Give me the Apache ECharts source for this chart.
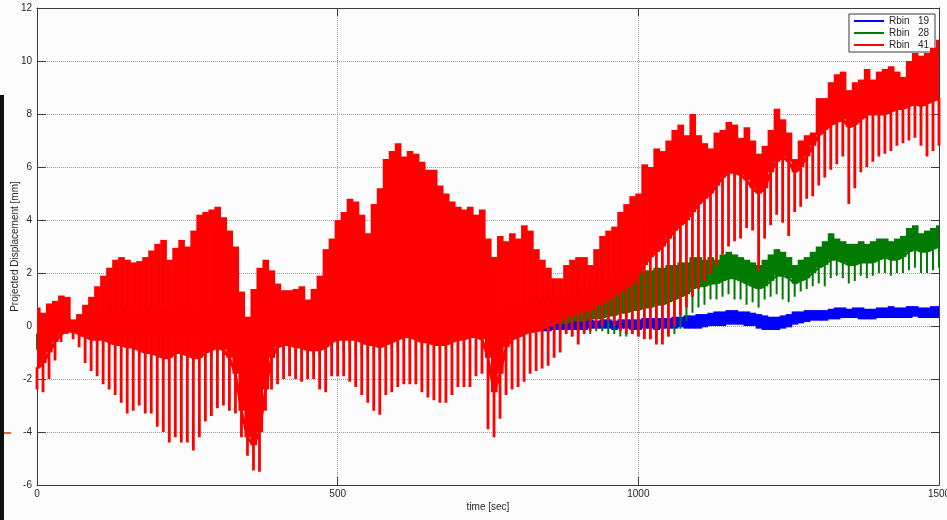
<!DOCTYPE html>
<html>
<head>
<meta charset="utf-8">
<script src="https://cdn.jsdelivr.net/npm/echarts/dist/echarts.min.js"></script>
<style>
  html, body { margin: 0; padding: 0; background: #fbfcfb; }
  #chart { width: 947px; height: 520px; }
</style>
</head>
<body>
<div id="chart"></div>
<script>
// Projected displacement of three radial bins over a 1500 s run.
// Each trace oscillates quickly, so it is stored as envelopes sampled every 10 s:
//   *Top  - upper edge of the trace
//   *Body - lower edge of the densely filled part
//   *Low  - tips of the downward swings
const TIME_STEP = 10;            // seconds between samples (0 .. 1500)
const X_TICKS = [0, 500, 1000, 1500];
const Y_TICKS = [-6, -4, -2, 0, 2, 4, 6, 8, 10, 12];
const SERIES_NAMES = ['Rbin   19', 'Rbin   28', 'Rbin   41'];

// Rbin 41 (red)
const rbin41Top = [
  0.7, 0.5, 0.85, 0.95, 1.15, 1.1, 0.25, 0.45, 0.8, 1.1,
  1.5, 1.9, 2.2, 2.5, 2.6, 2.5, 2.4, 2.45, 2.6, 2.85,
  3.1, 3.25, 2.5, 2.95, 3.25, 3.0, 3.6, 4.2, 4.3, 4.4,
  4.5, 4.1, 3.6, 3.0, 1.3, 0.35, 1.4, 2.2, 2.5, 2.1,
  1.6, 1.35, 1.35, 1.4, 1.5, 1.0, 1.4, 1.9, 2.9, 3.3,
  4.0, 4.3, 4.8, 4.7, 4.2, 3.5, 4.6, 5.2, 6.3, 6.6,
  6.9, 6.4, 6.6, 6.5, 6.2, 5.9, 5.9, 5.3, 5.0, 4.7,
  4.5, 4.4, 4.5, 4.2, 4.4, 3.3, 2.6, 3.4, 3.2, 3.5,
  3.3, 3.8, 3.6, 2.9, 2.5, 2.2, 1.8, 1.8, 2.3, 2.5,
  2.6, 2.6, 2.3, 2.9, 3.4, 3.6, 3.75, 4.3, 4.6, 4.9,
  5.0, 6.1, 6.0, 6.7, 6.6, 7.0, 7.4, 7.6, 7.2, 8.0,
  7.2, 6.9, 6.7, 7.3, 7.4, 7.7, 7.6, 7.1, 7.5, 7.0,
  6.5, 6.8, 7.4, 8.2, 7.8, 7.3, 6.3, 7.0, 7.2, 7.3,
  8.6, 8.6, 9.2, 9.5, 9.6, 8.9, 9.2, 9.3, 9.7, 9.3,
  9.6, 9.7, 9.8, 9.6, 9.4, 10.0, 10.3, 10.2, 10.3, 10.5,
  10.8
];
const rbin41Body = [
  -1.6, -1.4, -1.0, -0.6, -0.3, -0.2, -0.2, -0.3, -0.4, -0.5,
  -0.5, -0.5, -0.6, -0.7, -0.7, -0.8, -0.8, -0.9, -1.0, -1.0,
  -1.1, -1.2, -1.2, -1.0, -1.0, -1.1, -1.2, -1.2, -1.0, -0.9,
  -0.8, -0.9, -1.2, -1.8, -3.2, -4.2, -4.5, -4.0, -2.4, -1.2,
  -0.8, -0.7, -0.7, -0.8, -0.8, -0.9, -0.9, -0.9, -0.8, -0.6,
  -0.5, -0.5, -0.5, -0.5, -0.6, -0.7, -0.7, -0.8, -0.7, -0.6,
  -0.5, -0.4, -0.4, -0.5, -0.6, -0.6, -0.7, -0.7, -0.7, -0.6,
  -0.5, -0.5, -0.4, -0.4, -0.5, -1.2, -2.5, -1.8, -0.8, -0.5,
  -0.4, -0.3, -0.2, -0.2, -0.1, 0.0, 0.1, 0.2, 0.4, 0.4,
  0.5, 0.6, 0.6, 0.8, 0.9, 1.0, 1.2, 1.3, 1.5, 1.6,
  2.0, 2.3, 2.6, 2.8, 3.0, 3.3, 3.6, 3.8, 4.0, 4.3,
  4.6, 4.8, 5.0, 5.3, 5.6, 5.8, 5.8, 5.7, 5.5, 5.2,
  5.0, 5.2, 5.8, 6.2, 6.4, 6.2, 5.8, 6.0, 6.4, 6.8,
  7.2, 7.4, 7.6, 7.7, 7.8, 7.5, 7.6, 7.8, 8.0, 8.0,
  8.0, 8.0, 8.1, 8.2, 8.2, 8.3, 8.4, 8.3, 8.4, 8.5,
  8.6
];
const rbin41Low = [
  -2.4, -2.5, -2.0, -1.3, -0.6, -0.3, -0.5, -0.8, -1.4, -1.7,
  -1.9, -2.2, -2.4, -2.6, -2.9, -3.3, -3.2, -3.0, -3.3, -3.3,
  -3.8, -4.0, -4.4, -4.2, -4.4, -4.4, -4.7, -4.2, -3.6, -3.4,
  -3.1, -3.0, -3.2, -3.3, -4.2, -4.9, -5.45, -5.5, -3.2, -2.4,
  -2.2, -2.0, -1.9, -2.0, -2.1, -2.0, -2.0, -2.4, -2.5, -1.9,
  -1.9, -1.9, -2.1, -2.3, -2.6, -2.9, -3.2, -3.35, -2.6, -2.5,
  -2.3, -2.2, -2.2, -2.2, -2.5, -2.7, -2.8, -2.9, -2.9, -2.6,
  -2.3, -2.3, -2.3, -1.9, -1.8, -3.9, -4.2, -3.5, -2.6, -2.4,
  -2.3, -2.1, -1.8, -1.7, -1.6, -1.5, -1.2, -1.0, -0.3, -0.4,
  -0.7, -0.3, -0.2, -0.1, 0.0, 0.2, 0.0, -0.2, -0.3, -0.3,
  -0.4, -0.5, -0.5, -0.7, -0.7, -0.4, 0.0, 0.4, 0.7, 1.1,
  1.4, 1.7, 2.0, 2.3, 2.7, 3.0, 3.2, 3.3, 3.7, 3.6,
  2.1, 3.3, 3.8, 4.2, 3.9, 3.4, 4.3, 4.5, 4.8, 4.9,
  5.3, 5.6, 5.9, 6.1, 6.4, 4.6, 5.2, 5.8, 6.0, 6.2,
  6.4, 6.5, 6.6, 6.8, 6.9, 7.0, 7.1, 6.8, 6.4, 6.6,
  6.8
];

// Rbin 28 (green)
const rbin28Top = [
  0.3, 0.3, 0.4, 0.4, 0.3, 0.3, 0.2, 0.3, 0.4, 0.5,
  0.5, 0.6, 0.6, 0.5, 0.6, 0.7, 0.6, 0.6, 0.7, 0.6,
  0.7, 0.7, 0.6, 0.7, 0.8, 0.7, 0.6, 0.7, 0.6, 0.6,
  0.5, 0.5, 0.4, 0.3, 0.2, 0.1, 0.2, 0.3, 0.4, 0.5,
  0.5, 0.6, 0.6, 0.5, 0.6, 0.6, 0.7, 0.7, 0.8, 0.8,
  0.9, 0.9, 1.0, 0.9, 0.8, 0.9, 1.0, 1.0, 1.1, 1.0,
  1.0, 1.1, 1.0, 0.9, 1.0, 0.9, 1.0, 0.9, 0.9, 0.8,
  0.9, 0.8, 0.9, 0.8, 0.7, 0.6, 0.4, 0.6, 0.7, 0.8,
  0.8, 0.9, 0.9, 1.0, 1.0, 1.0, 1.1, 1.1, 1.2, 1.1,
  1.2, 1.3, 1.4, 1.5, 1.6, 1.7, 1.8, 1.8, 1.9, 2.0,
  2.0, 2.1, 2.1, 2.2, 2.2, 2.3, 2.3, 2.4, 2.4, 2.6,
  2.6, 2.5, 2.6, 2.5, 2.7, 2.8, 2.7, 2.6, 2.5, 2.4,
  2.3, 2.5, 2.7, 2.9, 2.8, 2.6, 2.3, 2.5, 2.6, 2.8,
  3.0, 3.2, 3.5, 3.3, 3.2, 3.1, 3.1, 3.2, 3.1, 3.2,
  3.3, 3.3, 3.2, 3.3, 3.4, 3.7, 3.8, 3.5, 3.6, 3.7,
  3.8
];
const rbin28Body = [
  -0.3, -0.3, -0.2, -0.1, 0.0, 0.0, -0.1, -0.1, -0.2, -0.2,
  -0.2, -0.3, -0.3, -0.3, -0.2, -0.3, -0.3, -0.2, -0.3, -0.3,
  -0.3, -0.4, -0.3, -0.3, -0.3, -0.4, -0.4, -0.4, -0.3, -0.3,
  -0.3, -0.3, -0.4, -0.5, -0.6, -0.7, -0.7, -0.6, -0.5, -0.4,
  -0.4, -0.3, -0.3, -0.3, -0.4, -0.4, -0.3, -0.3, -0.3, -0.2,
  -0.2, -0.2, -0.2, -0.3, -0.3, -0.3, -0.3, -0.4, -0.3, -0.3,
  -0.2, -0.2, -0.2, -0.2, -0.3, -0.3, -0.3, -0.3, -0.3, -0.2,
  -0.2, -0.2, -0.2, -0.2, -0.2, -0.4, -0.6, -0.5, -0.3, -0.2,
  -0.2, -0.1, -0.1, 0.0, 0.0, 0.0, 0.1, 0.1, 0.1, 0.2,
  0.2, 0.2, 0.3, 0.3, 0.3, 0.4, 0.4, 0.5, 0.5, 0.6,
  0.6, 0.7, 0.7, 0.8, 0.8, 0.9, 1.0, 1.1, 1.2, 1.4,
  1.5, 1.5, 1.6, 1.6, 1.7, 1.8, 1.8, 1.7, 1.6, 1.5,
  1.4, 1.5, 1.7, 1.9, 1.9, 1.8, 1.6, 1.7, 1.8, 2.0,
  2.2, 2.3, 2.5, 2.5, 2.4, 2.3, 2.3, 2.4, 2.4, 2.4,
  2.5, 2.6, 2.5, 2.5, 2.6, 2.8, 2.9, 2.8, 2.8, 2.9,
  3.0
];
const rbin28Low = [
  -0.9, -0.8, -0.6, -0.4, -0.3, -0.2, -0.3, -0.5, -0.7, -0.8,
  -0.9, -1.0, -1.0, -1.1, -1.0, -1.1, -1.2, -1.1, -1.2, -1.2,
  -1.2, -1.3, -1.2, -1.2, -1.3, -1.3, -1.4, -1.3, -1.2, -1.2,
  -1.1, -1.2, -1.3, -1.4, -1.6, -1.8, -1.8, -1.6, -1.3, -1.1,
  -1.1, -1.0, -1.0, -1.1, -1.2, -1.2, -1.1, -1.1, -1.0, -1.0,
  -0.9, -1.0, -1.0, -1.1, -1.1, -1.2, -1.2, -1.3, -1.2, -1.1,
  -1.0, -1.0, -1.1, -1.1, -1.2, -1.2, -1.3, -1.3, -1.2, -1.1,
  -1.1, -1.0, -1.0, -0.9, -0.9, -1.3, -1.6, -1.4, -1.1, -1.0,
  -1.0, -0.9, -0.9, -0.8, -0.7, -0.7, -0.6, -0.5, -0.3, -0.4,
  -0.4, -0.3, -0.3, -0.2, -0.2, -0.3, -0.3, -0.4, -0.4, -0.3,
  -0.4, -0.4, -0.5, -0.6, -0.5, -0.4, -0.3, -0.1, 0.2, 0.5,
  0.7, 0.8, 1.0, 1.0, 1.1, 1.2, 1.0, 1.0, 0.8, 0.9,
  0.7, 1.0, 1.1, 1.2, 1.0, 0.9, 1.1, 1.3, 1.4, 1.5,
  1.6, 1.5, 1.8, 1.9, 1.8, 1.6, 1.7, 1.9, 1.8, 1.9,
  2.0, 2.0, 1.9, 2.0, 2.0, 2.1, 2.2, 2.0, 2.0, 2.1,
  2.2
];

// Rbin 19 (blue)
const rbin19Top = [
  0.1, 0.1, 0.15, 0.2, 0.2, 0.2, 0.15, 0.15, 0.1, 0.1,
  0.1, 0.1, 0.15, 0.15, 0.1, 0.1, 0.1, 0.15, 0.1, 0.1,
  0.1, 0.1, 0.1, 0.15, 0.15, 0.1, 0.1, 0.1, 0.1, 0.1,
  0.1, 0.1, 0.05, 0.0, 0.0, -0.05, 0.0, 0.05, 0.1, 0.1,
  0.1, 0.15, 0.15, 0.1, 0.1, 0.15, 0.15, 0.2, 0.2, 0.2,
  0.2, 0.2, 0.25, 0.2, 0.2, 0.2, 0.2, 0.2, 0.25, 0.25,
  0.25, 0.25, 0.2, 0.2, 0.2, 0.2, 0.2, 0.2, 0.2, 0.2,
  0.2, 0.2, 0.2, 0.2, 0.15, 0.1, 0.05, 0.1, 0.15, 0.2,
  0.2, 0.2, 0.2, 0.2, 0.2, 0.25, 0.25, 0.25, 0.25, 0.25,
  0.2, 0.2, 0.25, 0.2, 0.25, 0.25, 0.2, 0.25, 0.25, 0.25,
  0.25, 0.3, 0.3, 0.3, 0.3, 0.3, 0.35, 0.35, 0.4, 0.4,
  0.45, 0.45, 0.5, 0.55, 0.55, 0.6, 0.6, 0.55, 0.55, 0.5,
  0.45, 0.4, 0.35, 0.35, 0.4, 0.45, 0.55, 0.55, 0.6, 0.6,
  0.6, 0.6, 0.65, 0.7, 0.7, 0.65, 0.7, 0.7, 0.65, 0.65,
  0.7, 0.7, 0.75, 0.7, 0.7, 0.75, 0.75, 0.7, 0.7, 0.75,
  0.75
];
const rbin19Low = [
  -0.3, -0.3, -0.25, -0.2, -0.15, -0.15, -0.2, -0.2, -0.25, -0.3,
  -0.3, -0.3, -0.3, -0.35, -0.3, -0.35, -0.35, -0.3, -0.35, -0.35,
  -0.35, -0.4, -0.35, -0.35, -0.35, -0.4, -0.4, -0.4, -0.35, -0.35,
  -0.35, -0.35, -0.4, -0.45, -0.5, -0.55, -0.55, -0.5, -0.45, -0.4,
  -0.4, -0.35, -0.35, -0.35, -0.4, -0.4, -0.35, -0.35, -0.3, -0.3,
  -0.3, -0.3, -0.3, -0.3, -0.35, -0.35, -0.35, -0.35, -0.3, -0.3,
  -0.3, -0.3, -0.3, -0.3, -0.3, -0.3, -0.35, -0.35, -0.3, -0.3,
  -0.3, -0.3, -0.3, -0.3, -0.3, -0.4, -0.5, -0.45, -0.35, -0.3,
  -0.3, -0.25, -0.25, -0.2, -0.2, -0.2, -0.15, -0.15, -0.15, -0.15,
  -0.15, -0.15, -0.1, -0.1, -0.1, -0.1, -0.15, -0.1, -0.1, -0.15,
  -0.15, -0.1, -0.1, -0.15, -0.1, -0.1, -0.1, -0.05, -0.1, -0.1,
  -0.1, -0.05, 0.0, 0.0, 0.0, 0.05, 0.05, 0.05, 0.0, 0.0,
  -0.1, -0.15, -0.15, -0.15, -0.1, -0.05, 0.05, 0.1, 0.15, 0.2,
  0.2, 0.2, 0.25, 0.25, 0.3, 0.3, 0.3, 0.25, 0.25, 0.25,
  0.3, 0.3, 0.3, 0.3, 0.3, 0.3, 0.35, 0.3, 0.3, 0.3,
  0.3
];

const COLORS = { rbin19: '#0000ff', rbin28: '#007a00', rbin41: '#ff0000' };
const FONT = '"Liberation Sans", Arial, sans-serif';
const AXIS_COLOR = '#3a3a3a';
const TEXT_COLOR = '#262626';
const LEGEND_LINE = 'path://M0,0H30V2H0Z';

// Densely filled part of a trace: one block per sample, spanning the
// sample's time window between its lower and upper envelope values.
function bandSeries(name, top, bottom, color, z) {
  return {
    type: 'custom', name: name, silent: true, animation: false, clip: true, z: z,
    itemStyle: { color: color },
    encode: { x: 0, y: [1, 2] },
    data: top.map((v, i) => [i * TIME_STEP, v, bottom[i]]),
    renderItem: function (params, api) {
      const t = api.value(0);
      const a = api.coord([t - TIME_STEP / 2, api.value(1)]);
      const b = api.coord([t + TIME_STEP / 2, api.value(2)]);
      return {
        type: 'rect',
        shape: { x: a[0], y: a[1], width: b[0] - a[0] + 0.6, height: b[1] - a[1] },
        style: { fill: color }
      };
    }
  };
}

// Vertical swings from the filled body down to the envelope tips.
function swingSeries(name, body, low, color, width, z) {
  const pts = [];
  body.forEach((b, i) => {
    const t = i * TIME_STEP;
    pts.push([t, b], [t, low[i]], [t, b]);
  });
  return {
    type: 'line', name: name, data: pts, color: color, z: z,
    symbol: 'none', showSymbol: false, silent: true, animation: false,
    lineStyle: { width: width, color: color }
  };
}

const series = [
  bandSeries(SERIES_NAMES[0], rbin19Top, rbin19Low, COLORS.rbin19, 2),
  swingSeries(SERIES_NAMES[1], rbin28Body, rbin28Low, COLORS.rbin28, 2, 3),
  bandSeries(SERIES_NAMES[1], rbin28Top, rbin28Body, COLORS.rbin28, 4),
  swingSeries(SERIES_NAMES[2], rbin41Body, rbin41Low, COLORS.rbin41, 2.8, 5),
  bandSeries(SERIES_NAMES[2], rbin41Top, rbin41Body, COLORS.rbin41, 6)
];

const tickLine = { color: AXIS_COLOR, width: 1 };
const gridDots = { color: '#9a9a9a', type: 'dotted', width: 1 };
const plainNumber = v => String(v);

const chart = echarts.init(document.getElementById('chart'), null, { renderer: 'canvas' });
chart.setOption({
  backgroundColor: '#fbfcfb',
  animation: false,
  grid: { left: 37, right: 8, top: 8, bottom: 35, outerBoundsMode: 'none', containLabel: false },
  legend: {
    data: SERIES_NAMES.map(n => ({ name: n, icon: LEGEND_LINE })),
    orient: 'vertical', right: 12, top: 14,
    itemWidth: 30, itemHeight: 10, itemGap: 2,
    padding: [2, 6, 2, 5],
    backgroundColor: '#ffffff', borderColor: '#3a3a3a', borderWidth: 1, borderRadius: 0,
    selectedMode: false,
    textStyle: { fontFamily: FONT, fontSize: 10, color: TEXT_COLOR }
  },
  xAxis: [{
    type: 'value', min: X_TICKS[0], max: X_TICKS[X_TICKS.length - 1], interval: 500,
    position: 'bottom',
    axisLine: { show: true, onZero: false, lineStyle: tickLine },
    axisTick: { show: true, inside: true, length: 8, lineStyle: tickLine },
    axisLabel: { fontFamily: FONT, fontSize: 10, color: TEXT_COLOR, margin: 4, formatter: plainNumber },
    splitLine: { show: true, showMinLine: false, showMaxLine: false, lineStyle: gridDots },
    name: 'time [sec]', nameLocation: 'middle', nameGap: 17, nameMoveOverlap: false,
    nameTextStyle: { fontFamily: FONT, fontSize: 10, color: TEXT_COLOR }
  }, {
    type: 'value', min: X_TICKS[0], max: X_TICKS[X_TICKS.length - 1], interval: 500,
    position: 'top',
    axisLine: { show: true, onZero: false, lineStyle: tickLine },
    axisTick: { show: true, inside: true, length: 8, lineStyle: tickLine },
    axisLabel: { show: false }, splitLine: { show: false }
  }],
  yAxis: [{
    type: 'value', min: Y_TICKS[0], max: Y_TICKS[Y_TICKS.length - 1], interval: 2,
    position: 'left',
    axisLine: { show: true, onZero: false, lineStyle: tickLine },
    axisTick: { show: true, inside: true, length: 9, lineStyle: tickLine },
    axisLabel: { fontFamily: FONT, fontSize: 10, color: TEXT_COLOR, margin: 5, formatter: plainNumber },
    splitLine: { show: true, showMinLine: false, showMaxLine: false, lineStyle: gridDots },
    name: 'Projected Displacement [mm]', nameLocation: 'middle', nameGap: 17, nameMoveOverlap: false,
    nameTextStyle: { fontFamily: FONT, fontSize: 10, color: TEXT_COLOR }
  }, {
    type: 'value', min: Y_TICKS[0], max: Y_TICKS[Y_TICKS.length - 1], interval: 2,
    position: 'right',
    axisLine: { show: true, onZero: false, lineStyle: tickLine },
    axisTick: { show: true, inside: true, length: 8, lineStyle: tickLine },
    axisLabel: { show: false }, splitLine: { show: false }
  }],
  graphic: [
    { type: 'rect', left: 0, top: 95, shape: { width: 4, height: 425 }, style: { fill: '#101010' }, silent: true },
    { type: 'rect', left: 4, top: 432, shape: { width: 7, height: 2 }, style: { fill: '#e06a3a' }, silent: true }
  ],
  series: series
});
</script>
</body>
</html>
